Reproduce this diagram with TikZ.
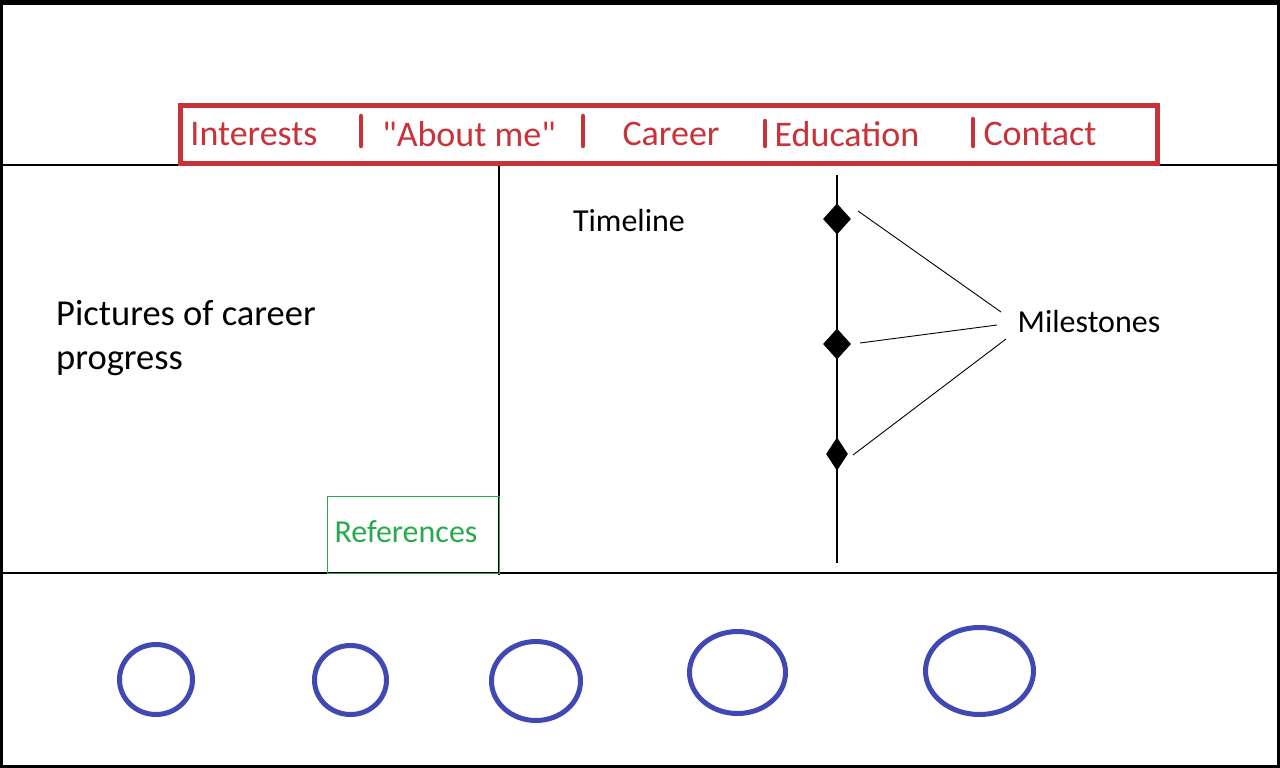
\documentclass[tikz,border=0pt]{standalone}
\usepackage{fontspec}
\setmainfont{Carlito}
\usetikzlibrary{shapes.geometric}
\definecolor{navred}{RGB}{200,50,56}
\definecolor{refgreen}{RGB}{40,170,76}
\definecolor{dotblue}{RGB}{64,72,180}
\begin{document}
\begin{tikzpicture}[x=1pt,y=-1pt,
  frame/.style={draw=black,line width=#1},
  rule/.style={draw=black,line width=1.2pt},
  navtext/.style={text=navred,font=\fontsize{36}{40}\selectfont,inner sep=0pt},
  navbar/.style={draw=navred,line width=4.5pt,line cap=round},
  label/.style={text=black,font=\fontsize{32}{36}\selectfont,inner sep=0pt},
  milestone/.style={shape=diamond,fill=black,draw=black,line width=0.8pt,inner sep=0pt,minimum width=27pt,minimum height=30pt},
  pointer/.style={draw=black,line width=0.9pt},
  bubble/.style={draw=dotblue,line width=5pt}]
\useasboundingbox (0,0) rectangle (1280,768);
\fill[white] (0,0) rectangle (1280,768);

% page frame
\draw[frame=5pt] (0,2.5) -- (1280,2.5);
\draw[frame=3pt] (1.5,0) -- (1.5,768);
\draw[frame=3pt] (1278.5,0) -- (1278.5,768);
\draw[frame=3pt] (0,766.5) -- (1280,766.5);

% header, column and footer rules
\draw[rule] (0,165) -- (1280,165);
\draw[rule] (0,573) -- (1280,573);
\draw[rule] (499,165) -- (499,575);

% navigation bar
\draw[draw=navred,line width=5pt,fill=white] (180,105.5) rectangle (1157,163.5);
\node[navtext] (nav1) at (254,134) {Interests};
\node[navtext] (nav2) at (469,134) {\textquotedbl About me\textquotedbl};
\node[navtext] (nav3) at (671,134) {Career};
\node[navtext] (nav4) at (847,134) {Education};
\node[navtext] (nav5) at (1040,134) {Contact};
\draw[navbar] (361,116) -- (361,146);
\draw[navbar] (583,116) -- (583,146);
\draw[navbar] (765,121) -- (765,146);
\draw[navbar] (973,119) -- (973,146);

% left column
\node[text=black,font=\fontsize{36.5}{44}\selectfont,align=left,anchor=west,inner sep=0pt]
  (pics) at (56,338) {Pictures of career\\progress};
\draw[draw=refgreen,line width=1pt] (327,496) rectangle (499,573);
\node[text=refgreen,font=\fontsize{32}{36}\selectfont,inner sep=0pt] (refs) at (406,532) {References};

% timeline
\node[label] (tl) at (629,220) {Timeline};
\coordinate (tltop) at (837,175);
\coordinate (tlbot) at (837,563);
\draw[draw=black,line width=1.3pt] (tltop) -- (tlbot);
\node[milestone] (m1) at (837,219) {};
\node[milestone] (m2) at (837,344) {};
\node[milestone,minimum width=21pt,minimum height=32pt] (m3) at (837,454) {};
\node[label] (ms) at (1089,322) {Milestones};
\coordinate (p1) at (1001,312);
\coordinate (p2) at (997,325);
\coordinate (p3) at (1006,339);
\coordinate (q1) at (858,211);
\coordinate (q2) at (860,343);
\coordinate (q3) at (853,455);
\draw[pointer] (q1) -- (p1);
\draw[pointer] (q2) -- (p2);
\draw[pointer] (q3) -- (p3);

% footer circles
\draw[bubble] (156,679.5) ellipse [x radius=36.5,y radius=35];
\draw[bubble] (350.5,680) ellipse [x radius=36,y radius=34.5];
\draw[bubble] (536,681) ellipse [x radius=44.5,y radius=39.5];
\draw[bubble] (737.5,672.5) ellipse [x radius=48,y radius=41];
\draw[bubble] (979.5,671) ellipse [x radius=54,y radius=43.5];
\end{tikzpicture}
\end{document}
